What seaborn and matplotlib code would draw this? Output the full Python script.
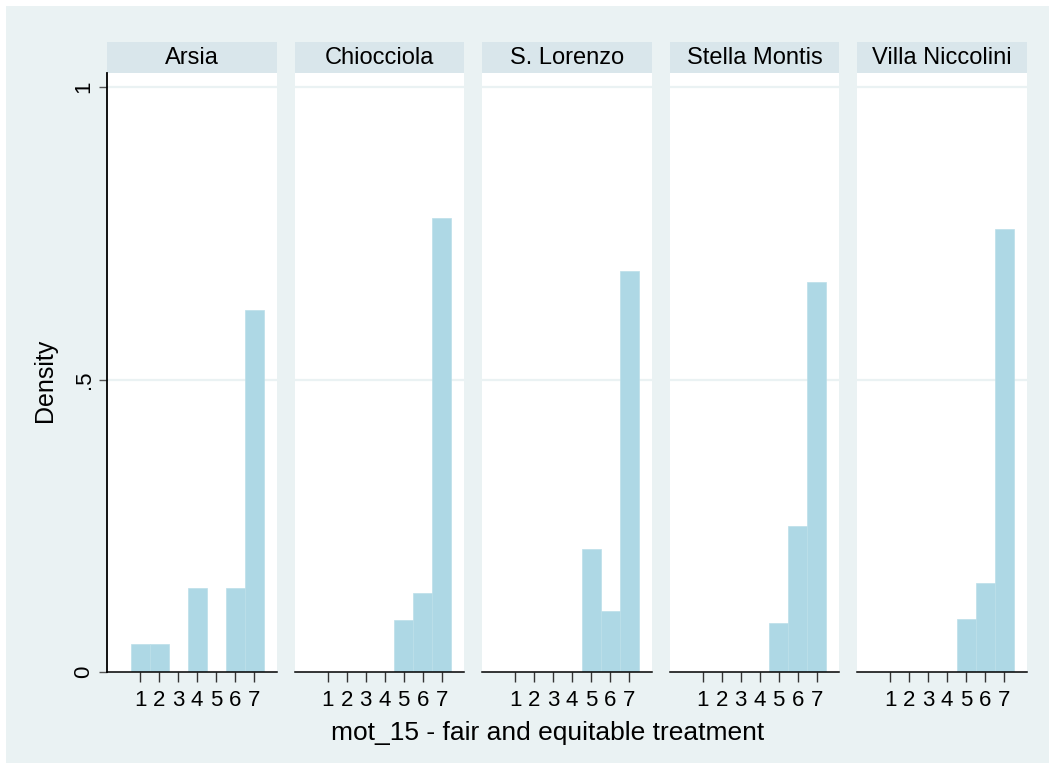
import matplotlib
matplotlib.use("Agg")
import matplotlib.pyplot as plt
from matplotlib.patches import Rectangle
import pandas as pd
import seaborn as sns

# values (density per answer, by site)
sites = ["Arsia", "Chiocciola", "S. Lorenzo", "Stella Montis", "Villa Niccolini"]
arsia_vals = [1, 2, 4, 6, 7]
arsia_dens = [0.048, 0.048, 0.143, 0.143, 0.619]
chiocciola_vals = [5, 6, 7]
chiocciola_dens = [0.089, 0.135, 0.776]
slorenzo_vals = [5, 6, 7]
slorenzo_dens = [0.210, 0.105, 0.685]
stella_vals = [5, 6, 7]
stella_dens = [0.083, 0.250, 0.667]
villa_vals = [5, 6, 7]
villa_dens = [0.091, 0.152, 0.758]
xticks = [1, 2, 3, 4, 5, 6, 7]
yticks = [0, 0.5, 1]
yticklabels = ["0", ".5", "1"]

rows = []
for site, vals, dens in [
    ("Arsia", arsia_vals, arsia_dens),
    ("Chiocciola", chiocciola_vals, chiocciola_dens),
    ("S. Lorenzo", slorenzo_vals, slorenzo_dens),
    ("Stella Montis", stella_vals, stella_dens),
    ("Villa Niccolini", villa_vals, villa_dens),
]:
    for v, d in zip(vals, dens):
        rows.append({"site": site, "mot_15": v, "density": d})
df = pd.DataFrame(rows)

sns.set_style("white")
plt.rcParams["font.family"] = ["Liberation Sans", "DejaVu Sans"]
plt.rcParams["text.color"] = "black"
plt.rcParams["xtick.color"] = "black"
plt.rcParams["ytick.color"] = "black"

bg = "#EAF2F3"
strip = "#D9E6EB"
barcol = "#AED8E5"

g = sns.FacetGrid(df, col="site", col_order=sites, sharey=True, sharex=True)
g.map_dataframe(sns.histplot, x="mot_15", weights="density", discrete=True,
                shrink=1, color=barcol, edgecolor="#BCDFE9", linewidth=0.5,
                alpha=1)
fig = g.figure
fig.set_size_inches(10.55, 7.69)
fig.set_dpi(100)
fig.patch.set_facecolor("white")
fig.patches.append(Rectangle((6 / 1055, 6 / 769), 1 - 12 / 1055, 1 - 12 / 769,
                             transform=fig.transFigure, facecolor=bg,
                             edgecolor="none", zorder=-10))
fig.subplots_adjust(left=107 / 1055, right=1027 / 1055, top=1 - 73 / 769,
                    bottom=1 - 672 / 769, wspace=0.103)

for i, (ax, site) in enumerate(zip(g.axes.flat, sites)):
    ax.set_facecolor("white")
    ax.set_xlim(-0.74, 8.2)
    ax.set_ylim(0, 1.024)
    ax.set_title("")
    ax.set_xlabel("")
    ax.set_ylabel("")
    for y in [0.5, 1]:
        ax.axhline(y, color=bg, lw=1.6, zorder=0)
    ax.set_xticks(xticks)
    ax.set_xticklabels([str(t) for t in xticks], fontsize=16, color="black")
    ax.tick_params(axis="x", length=7, width=1, color="#333333", pad=6,
                   bottom=True, labelcolor="black")
    for s in ["top", "right"]:
        ax.spines[s].set_visible(False)
    ax.spines["bottom"].set_color("black")
    ax.spines["bottom"].set_linewidth(1.1)
    if i == 0:
        ax.spines["left"].set_color("black")
        ax.spines["left"].set_linewidth(1.3)
        ax.set_yticks(yticks)
        ax.set_yticklabels(yticklabels, fontsize=16, rotation=90,
                           va="center", color="black")
        ax.tick_params(axis="y", length=6, width=1, color="#555555", pad=3,
                       left=True, labelcolor="black")
    else:
        ax.spines["left"].set_visible(False)
        ax.tick_params(axis="y", left=False, labelleft=False)
    ax.add_patch(Rectangle((0, 1), 1, 31 / 599, transform=ax.transAxes,
                           facecolor=strip, edgecolor="none", clip_on=False))
    ax.text(0.5, 1 + 15.5 / 599, site, transform=ax.transAxes, ha="center",
            va="center", fontsize=17, color="black")

fig.text(45 / 1055, 1 - 380 / 769, "Density", rotation=90, ha="center",
         va="center", fontsize=18, color="black")
fig.text(548 / 1055, 1 - 733 / 769, "mot_15 - fair and equitable treatment",
         ha="center", va="center", fontsize=19, color="black")

fig.savefig("out.png", dpi=100, facecolor=fig.get_facecolor())
